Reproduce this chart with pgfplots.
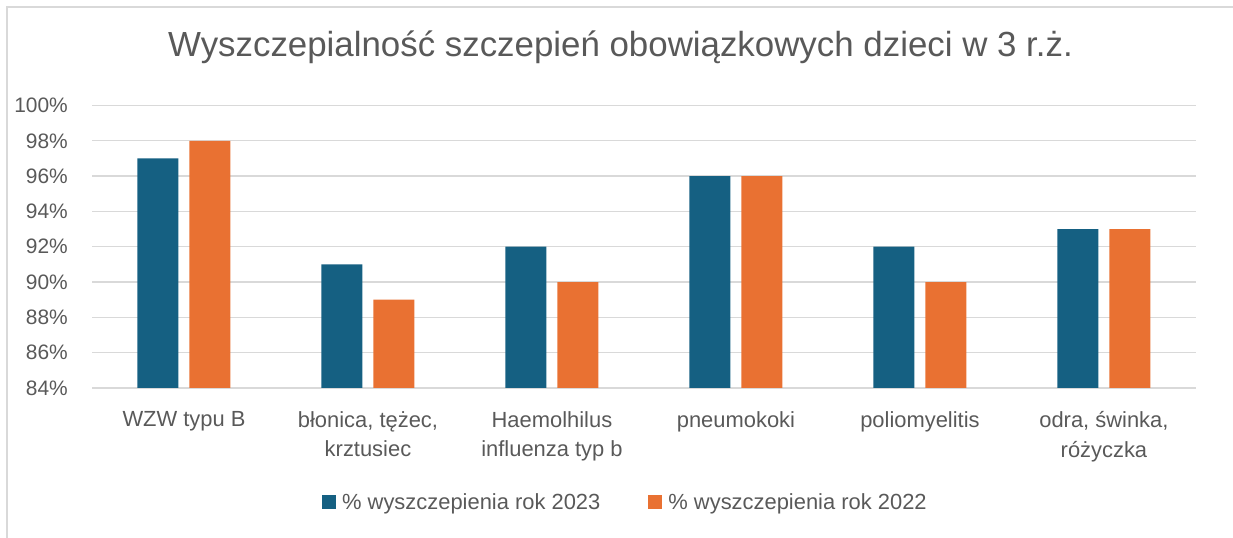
\documentclass[border=0pt]{standalone}
\usepackage{fontspec}
\setmainfont{Liberation Sans}
\usepackage{pgfplots}
\pgfplotsset{compat=1.18}
\definecolor{blueA}{HTML}{156082}
\definecolor{orangeA}{HTML}{E97132}
\definecolor{txt}{HTML}{595959}
\definecolor{gridc}{HTML}{D9D9D9}
\begin{document}
\begin{tikzpicture}
\useasboundingbox (0,0) rectangle (1233bp,538bp);
\draw[gridc, line width=1.5bp] (7bp,0) -- (7bp,531bp) -- (1233bp,531bp);
\node[anchor=base, text=txt, font=\fontsize{35}{40}\selectfont, inner sep=0pt] at (620.5bp,481bp) {Wyszczepialność szczepień obowiązkowych dzieci w 3 r.ż.};
\begin{axis}[
  at={(92bp,150bp)}, anchor=south west,
  scale only axis, width=1104bp, height=282.5bp,
  xmin=-0.5, xmax=5.5, ymin=84, ymax=100,
  ybar=11bp, bar width=41bp,
  axis line style={draw=none},
  major tick length=0pt,
  ymajorgrids, grid style={gridc, line width=1.3bp},
  xtick={0,1,2,3,4,5},
  xticklabels={WZW typu B, {błonica, tężec,\\krztusiec}, {Haemolhilus\\influenza typ b}, pneumokoki, poliomyelitis, {odra, świnka,\\różyczka}},
  ytick={84,86,88,90,92,94,96,98,100},
  yticklabels={84\%,86\%,88\%,90\%,92\%,94\%,96\%,98\%,100\%},
  xticklabel style={anchor=north, align=center, inner sep=0pt, yshift=-23bp, text=txt, font=\fontsize{22}{30}\selectfont},
  yticklabel style={anchor=east, inner sep=0pt, xshift=-24bp, text=txt, font=\fontsize{21}{24}\selectfont},
  legend columns=2,
  legend style={at={(0.4823,-0.4053)}, anchor=center, draw=none, fill=none,
    font=\fontsize{22}{26}\selectfont, text=txt,
    nodes={inner sep=0pt},
    /tikz/every odd column/.append style={column sep=6bp},
    /tikz/every even column/.append style={column sep=48bp}},
  legend image code/.code={\fill[#1] (0bp,-7bp) rectangle (14bp,7bp);},
]
\addplot[fill=blueA, draw=none] coordinates {(0,97) (1,91) (2,92) (3,96) (4,92) (5,93)};
\addplot[fill=orangeA, draw=none] coordinates {(0,98) (1,89) (2,90) (3,96) (4,90) (5,93)};
\legend{\% wyszczepienia rok 2023, \% wyszczepienia rok 2022}
\end{axis}
\end{tikzpicture}
\end{document}
